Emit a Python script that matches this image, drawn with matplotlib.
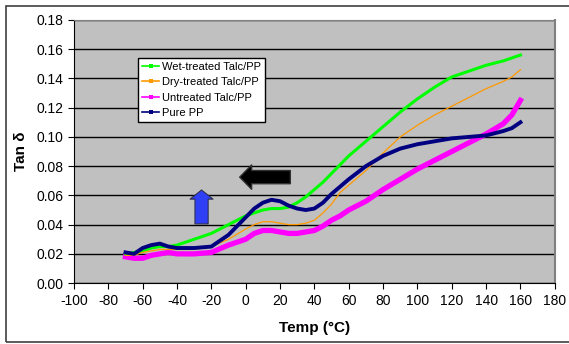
import numpy as np
import matplotlib.pyplot as plt
from matplotlib.patches import Rectangle
from matplotlib.lines import Line2D

plt.rcParams['font.family'] = ['Liberation Sans', 'DejaVu Sans']
plt.rcParams['axes.unicode_minus'] = False

temp = [-70, -65, -60, -55, -50, -45, -40, -30, -20, -10, 0, 5, 10, 15, 20, 25, 30, 35, 40, 45,
        50, 55, 60, 70, 80, 90, 100, 110, 120, 130, 140, 150, 155, 160]

wet = [0.020, 0.021, 0.022, 0.024, 0.025, 0.025, 0.026, 0.030, 0.034, 0.040, 0.046, 0.048, 0.050, 0.051, 0.051, 0.052, 0.055, 0.059, 0.064, 0.069,
       0.075, 0.081, 0.087, 0.097, 0.107, 0.117, 0.126, 0.134, 0.141, 0.145, 0.149, 0.152, 0.154, 0.156]

dry = [0.019, 0.019, 0.021, 0.022, 0.023, 0.023, 0.023, 0.023, 0.025, 0.030, 0.037, 0.040, 0.042, 0.042, 0.041, 0.040, 0.040, 0.041, 0.043, 0.048,
       0.054, 0.062, 0.067, 0.077, 0.089, 0.100, 0.108, 0.115, 0.121, 0.127, 0.133, 0.138, 0.141, 0.146]

untreated = [0.018, 0.017, 0.017, 0.019, 0.020, 0.021, 0.020, 0.020, 0.021, 0.026, 0.030, 0.034, 0.036, 0.036, 0.035, 0.034, 0.034, 0.035, 0.036, 0.039,
             0.043, 0.046, 0.050, 0.056, 0.064, 0.071, 0.078, 0.084, 0.090, 0.096, 0.102, 0.109, 0.115, 0.125]

pure = [0.021, 0.020, 0.024, 0.026, 0.027, 0.025, 0.024, 0.024, 0.025, 0.033, 0.045, 0.051, 0.055, 0.057, 0.056, 0.053, 0.051, 0.050, 0.051, 0.055,
        0.061, 0.066, 0.071, 0.080, 0.087, 0.092, 0.095, 0.097, 0.099, 0.100, 0.101, 0.104, 0.106, 0.110]

names = ['Wet-treated Talc/PP', 'Dry-treated Talc/PP', 'Untreated Talc/PP', 'Pure PP']
colors = ['#00ff00', '#ff9900', '#ff00ff', '#000080']

fig = plt.figure(figsize=(5.69, 3.44), dpi=100)
ax = fig.add_axes([0.130, 0.177, 0.845, 0.765])
ax.set_facecolor('#c0c0c0')

# outer chart frame
fig.patches.append(Rectangle((6/569, 2/344), 1.2, 336/344, transform=fig.transFigure,
                             fill=False, ec='#404040', lw=1.2))

ax.plot(temp, wet, color=colors[0], lw=2.2, zorder=3)
ax.plot(temp, dry, color=colors[1], lw=0.9, zorder=4)
ax.plot(temp, untreated, color=colors[2], lw=3.8, zorder=2)
ax.plot(temp, pure, color=colors[3], lw=2.8, zorder=5)

ax.set_xlim(-100, 180)
ax.set_ylim(0, 0.18)
ax.set_xticks(np.arange(-100, 181, 20))
ax.set_yticks(np.arange(0, 0.181, 0.02))
ax.set_yticklabels(['%.2f' % v for v in np.arange(0, 0.181, 0.02)])
ax.yaxis.grid(True, color='black', lw=1)
ax.set_axisbelow(True)
ax.tick_params(labelsize=10, length=4, direction='out', colors='black')
for s in ['top', 'right']:
    ax.spines[s].set_color('#808080')
ax.spines['right'].set_linewidth(1.5)

ax.set_xlabel('Temp (°C)', fontsize=11, fontweight='bold', labelpad=10)
ax.set_ylabel('Tan δ', fontsize=11, fontweight='bold', labelpad=6)

handles = [Line2D([], [], color=c, lw=1.2, marker='s', markersize=2.2, markeredgewidth=0)
           for c in colors]
leg = ax.legend(handles, names, loc='upper left', bbox_to_anchor=(0.134, 0.855), fontsize=8,
                frameon=True, fancybox=False, edgecolor='black', framealpha=1, handlelength=1.5,
                numpoints=1, handletextpad=0.3, borderpad=0.35, labelspacing=0.48,
                borderaxespad=0)
leg.get_frame().set_linewidth(1)

# arrows
ax.annotate('', xy=(-3.5, 0.0725), xytext=(26, 0.0725),
            arrowprops=dict(arrowstyle='simple,head_length=0.86,head_width=1.75,tail_width=0.95',
                            mutation_scale=10, fc='black', ec='#303030', shrinkA=0, shrinkB=0))
ax.annotate('', xy=(-25.7, 0.0637), xytext=(-25.7, 0.0405),
            arrowprops=dict(arrowstyle='simple,head_length=0.66,head_width=1.65,tail_width=0.95',
                            mutation_scale=10, fc='#2f3ff5', ec='#303050', lw=0.8,
                            shrinkA=0, shrinkB=0))

fig.savefig('out.png', dpi=100)
